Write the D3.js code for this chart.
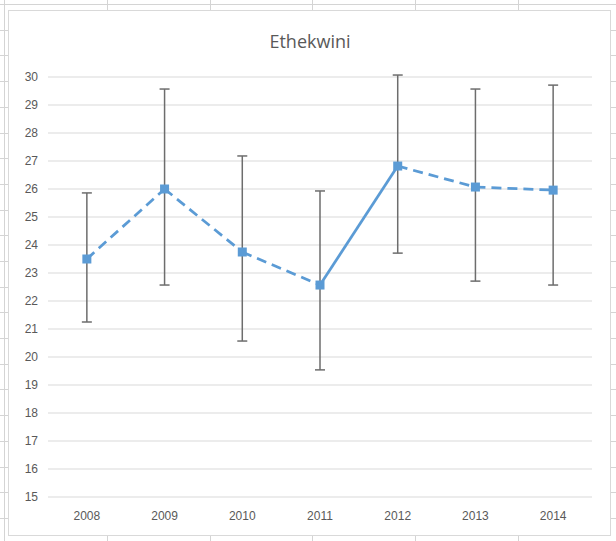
<!DOCTYPE html>
<html lang="en">
<head>
  <meta charset="UTF-8">
  <title>Ethekwini</title>
  <script src="https://d3js.org/d3.v7.min.js"></script>
  <style>
    body { margin: 0; background: #fff; }
    svg { display: block; font-family: "Open Sans", "Liberation Sans", sans-serif; }
    .tick text { fill: #595959; font-size: 12px; }
  </style>
</head>
<body>
  <svg width="616" height="541"></svg>
  <script>
    const years = ['2008', '2009', '2010', '2011', '2012', '2013', '2014'];
    const means = [23.5, 26.0, 23.75, 22.57, 26.82, 26.07, 25.96];
    const upper = [25.86, 29.57, 27.18, 25.93, 30.07, 29.57, 29.71];
    const lower = [21.25, 22.57, 20.57, 19.54, 23.71, 22.71, 22.57];
    // segment i joins point i and i+1
    const dashed = [true, true, true, false, true, true];
    const yTicks = d3.range(15, 31);

    const svg = d3.select('svg');

    // spreadsheet cells behind the chart
    const cells = svg.append('g').attr('stroke', '#d4d4d4').attr('stroke-width', 1);
    [4, 107, 210, 312, 415, 518].forEach(x => {
      cells.append('line').attr('x1', x + 0.5).attr('x2', x + 0.5).attr('y1', 0).attr('y2', 541);
    });
    for (let y = 4; y < 541; y += 25.7) {
      cells.append('line').attr('x1', 0).attr('x2', 616).attr('y1', Math.round(y) + 0.5).attr('y2', Math.round(y) + 0.5);
    }

    // chart area
    svg.append('rect')
      .attr('x', 8.5).attr('y', 10.5)
      .attr('width', 602).attr('height', 525)
      .attr('fill', '#fff').attr('stroke', '#d9d9d9');

    svg.append('text')
      .attr('x', 310).attr('y', 48)
      .attr('text-anchor', 'middle')
      .attr('fill', '#595959')
      .style('font-size', '18px')
      .text('Ethekwini');

    const x = d3.scaleBand().domain(years).range([48, 592]);
    const y = d3.scaleLinear().domain([15, 30]).range([497, 77]);
    const cx = d => x(d) + x.bandwidth() / 2;

    // gridlines
    svg.append('g').selectAll('line')
      .data(yTicks).enter().append('line')
      .attr('x1', 48).attr('x2', 592)
      .attr('y1', d => y(d)).attr('y2', d => y(d))
      .attr('stroke', '#d9d9d9').attr('stroke-width', 1);

    const yAxis = svg.append('g')
      .attr('transform', 'translate(48,0)')
      .call(d3.axisLeft(y).tickValues(yTicks).tickSize(0).tickPadding(10));
    yAxis.select('.domain').remove();

    const xAxis = svg.append('g')
      .attr('transform', 'translate(0,497)')
      .call(d3.axisBottom(x).tickSize(0).tickPadding(14));
    xAxis.select('.domain').remove();

    // error bars
    const err = svg.append('g').attr('stroke', '#6d6d6d').attr('stroke-width', 1.5);
    years.forEach((yr, i) => {
      const px = cx(yr);
      err.append('line').attr('x1', px).attr('x2', px).attr('y1', y(upper[i])).attr('y2', y(lower[i]));
      err.append('line').attr('x1', px - 5).attr('x2', px + 5).attr('y1', y(upper[i])).attr('y2', y(upper[i]));
      err.append('line').attr('x1', px - 5).attr('x2', px + 5).attr('y1', y(lower[i])).attr('y2', y(lower[i]));
    });

    // line segments
    const line = d3.line().x(d => cx(d.year)).y(d => y(d.value));
    dashed.forEach((isDashed, i) => {
      svg.append('path')
        .datum([{ year: years[i], value: means[i] }, { year: years[i + 1], value: means[i + 1] }])
        .attr('d', line)
        .attr('fill', 'none')
        .attr('stroke', '#5b9bd5')
        .attr('stroke-width', 2.75)
        .attr('stroke-dasharray', isDashed ? '10,6' : null);
    });

    // markers
    svg.append('g').selectAll('rect')
      .data(years).enter().append('rect')
      .attr('x', d => cx(d) - 4.5)
      .attr('y', (d, i) => y(means[i]) - 4.5)
      .attr('width', 9).attr('height', 9)
      .attr('fill', '#5b9bd5');
  </script>
</body>
</html>
